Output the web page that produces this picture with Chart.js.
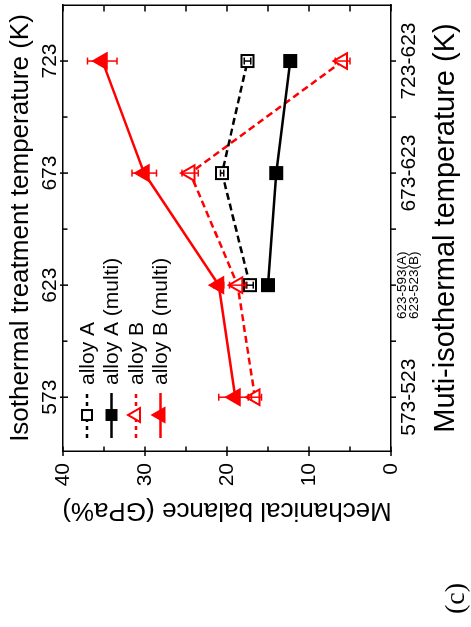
<!DOCTYPE html>
<html>
<head>
<meta charset="utf-8">
<script src="https://cdn.jsdelivr.net/npm/chart.js@4.4.1/dist/chart.umd.min.js"></script>
<style>
  html, body { margin:0; padding:0; background:#fff; overflow:hidden; }
  #wrap { position:absolute; left:0; top:0; width:627px; height:471px; transform-origin:0 0; transform:translate(0px, 627px) rotate(-90deg); background:#fff; }
  #c { position:absolute; left:0; top:0; }
  #lab { position:absolute; left:13px; top:441px; font-family:'Liberation Serif', serif; font-size:28px; line-height:28px; color:#000; }
</style>
</head>
<body>
<div id="wrap">
  <canvas id="c" width="627" height="471" style="width:627px;height:471px"></canvas>
  <div id="lab">(c)</div>
</div>
<script>
// ---- data ----
const temps = [573, 623, 673, 723];
const isoLabels = ['573', '623', '673', '723'];
const multiLabels = ['573-523', ['623-593(A)', '623-523(B)'], '673-623', '723-623'];
const minorTemps = [598, 648, 698];
const seriesNames = ['alloy A', 'alloy A (multi)', 'alloy B', 'alloy B (multi)'];

const alloyA = [null, 17.2, 20.6, 17.5];
const alloyAErr = [null, 0.4, 0.2, 0.4];
const alloyAMulti = [null, 15.0, 14.0, 12.3];
const alloyAMultiErr = [null, 0.3, 0.3, 0.3];
const alloyB = [16.6, 18.7, 24.5, 5.9];
const alloyBErr = [0.8, 1.0, 1.0, 0.9];
const alloyBMulti = [19.0, 21.0, 30.1, 35.2];
const alloyBMultiErr = [2.0, 0.6, 1.5, 1.8];

const yMajor = [0, 10, 20, 30, 40];
const yMinor = [5, 15, 25, 35];

const valueSets = [alloyA, alloyAMulti, alloyB, alloyBMulti];
const errorSets = [alloyAErr, alloyAMultiErr, alloyBErr, alloyBMultiErr];

const FAM = "'Liberation Sans', Arial, sans-serif";
const RED = '#ff0000';
const BLK = '#000000';

const styles = [
  { color: BLK, dash: [7, 4], shape: 'rect', filled: false, r: 8.5 },
  { color: BLK, dash: [], shape: 'rect', filled: true, r: 8.5 },
  { color: RED, dash: [7, 4], shape: 'triangle', filled: false, r: 9 },
  { color: RED, dash: [], shape: 'triangle', filled: true, r: 9 }
];

function toPoints(vals) {
  return temps.map((t, i) => ({ x: t, y: vals[i] }));
}

const datasets = valueSets.map((vals, i) => ({
  label: seriesNames[i],
  data: toPoints(vals),
  borderColor: styles[i].color,
  backgroundColor: styles[i].color,
  borderWidth: 2.5,
  borderDash: styles[i].dash,
  pointStyle: styles[i].shape,
  pointRadius: styles[i].r,
  pointHoverRadius: styles[i].r,
  pointBorderWidth: 2,
  pointBorderColor: styles[i].color,
  pointBackgroundColor: styles[i].filled ? styles[i].color : '#ffffff',
  tension: 0,
  spanGaps: false
}));

function drawMarker(ctx, shape, filled, color, x, y, r) {
  ctx.save();
  ctx.setLineDash([]);
  ctx.lineWidth = 2;
  ctx.strokeStyle = color;
  ctx.fillStyle = filled ? color : '#ffffff';
  ctx.beginPath();
  if (shape === 'rect') {
    const s = Math.SQRT1_2 * r;
    ctx.rect(x - s, y - s, 2 * s, 2 * s);
  } else {
    let a = -Math.PI / 2;
    ctx.moveTo(x + Math.cos(a) * r, y + Math.sin(a) * r);
    a += 2 * Math.PI / 3;
    ctx.lineTo(x + Math.cos(a) * r, y + Math.sin(a) * r);
    a += 2 * Math.PI / 3;
    ctx.lineTo(x + Math.cos(a) * r, y + Math.sin(a) * r);
    ctx.closePath();
  }
  ctx.fill();
  ctx.stroke();
  ctx.restore();
}

const decor = {
  id: 'decor',
  afterDatasetsDraw(chart) {
    const ctx = chart.ctx;
    const xs = chart.scales.x, ys = chart.scales.y;
    const ca = chart.chartArea;
    // error bars
    valueSets.forEach((vals, di) => {
      ctx.save();
      ctx.setLineDash([]);
      ctx.strokeStyle = styles[di].color;
      ctx.lineWidth = 1.5;
      temps.forEach((t, i) => {
        const v = vals[i], e = errorSets[di][i];
        if (v == null || e == null) return;
        const px = xs.getPixelForValue(t);
        const p1 = ys.getPixelForValue(v + e), p2 = ys.getPixelForValue(v - e);
        ctx.beginPath();
        ctx.moveTo(px, p1); ctx.lineTo(px, p2);
        ctx.moveTo(px - 3.5, p1); ctx.lineTo(px + 3.5, p1);
        ctx.moveTo(px - 3.5, p2); ctx.lineTo(px + 3.5, p2);
        ctx.stroke();
      });
      ctx.restore();
    });
    // tick marks
    ctx.save();
    ctx.setLineDash([]);
    ctx.strokeStyle = '#000';
    ctx.lineWidth = 1.5;
    ctx.beginPath();
    temps.concat(minorTemps).forEach(t => {
      const px = xs.getPixelForValue(t);
      ctx.moveTo(px, ca.bottom); ctx.lineTo(px, ca.bottom + 5);
    });
    temps.forEach(t => {
      const px = xs.getPixelForValue(t);
      ctx.moveTo(px, ca.top - 3); ctx.lineTo(px, ca.top + 5);
    });
    minorTemps.forEach(t => {
      const px = xs.getPixelForValue(t);
      ctx.moveTo(px, ca.top); ctx.lineTo(px, ca.top + 4.5);
    });
    yMajor.forEach(v => {
      const py = ys.getPixelForValue(v);
      ctx.moveTo(ca.left - 5, py); ctx.lineTo(ca.left + 4.5, py);
      ctx.moveTo(ca.right - 6.5, py); ctx.lineTo(ca.right, py);
    });
    yMinor.forEach(v => {
      const py = ys.getPixelForValue(v);
      ctx.moveTo(ca.left, py); ctx.lineTo(ca.left + 4.5, py);
      ctx.moveTo(ca.right - 6.5, py); ctx.lineTo(ca.right, py);
    });
    ctx.stroke();
    ctx.restore();
    // legend
    const x0 = ca.left + 13, x1 = ca.left + 58, xm = ca.left + 36, xt = ca.left + 66;
    seriesNames.forEach((name, j) => {
      const y = ca.top + 24 + 24.5 * j;
      const st = styles[j];
      ctx.save();
      ctx.strokeStyle = st.color;
      ctx.lineWidth = 2.5;
      ctx.setLineDash(st.dash.length ? [4, 4] : []);
      ctx.beginPath();
      ctx.moveTo(x0, y); ctx.lineTo(x1, y);
      ctx.stroke();
      ctx.restore();
      drawMarker(ctx, st.shape, st.filled, st.color, xm, y, st.shape === 'rect' ? 7 : 8);
      ctx.save();
      ctx.fillStyle = '#000';
      ctx.font = '21px ' + FAM;
      ctx.textAlign = 'left';
      ctx.textBaseline = 'middle';
      ctx.fillText(name, xt, y + 1);
      ctx.restore();
    });
  }
};

const tickFont = { family: FAM, size: 21 };
const titleFont = { family: FAM, size: 26 };
const border = { display: true, color: '#000', width: 1.5 };

function fitH(h) {
  return s => { s.height = h; s.paddingLeft = 0; s.paddingRight = 0; };
}
function fitW(w) {
  return s => { s.width = w; s.paddingTop = 0; s.paddingBottom = 0; };
}

new Chart(document.getElementById('c'), {
  type: 'line',
  data: { datasets: datasets },
  plugins: [decor],
  options: {
    responsive: false,
    devicePixelRatio: 1,
    animation: false,
    layout: { padding: 0, autoPadding: false },
    plugins: { legend: { display: false }, tooltip: { enabled: false } },
    scales: {
      x: {
        type: 'linear', position: 'bottom', min: 549, max: 748,
        afterBuildTicks: s => { s.ticks = temps.map(v => ({ value: v })); },
        afterFit: fitH(80),
        grid: { display: false, drawTicks: false },
        border: border,
        ticks: {
          autoSkip: false, maxRotation: 0, minRotation: 0, color: '#000', padding: 6,
          callback: (v, i) => multiLabels[i],
          font: c => (c.index === 1 ? { family: FAM, size: 13.5, lineHeight: 0.85 } : tickFont)
        },
        title: { display: true, text: 'Muti-isothermal temperature (K)', color: '#000', font: { family: FAM, size: 29 }, padding: { top: 0, bottom: 8 } }
      },
      x2: {
        type: 'linear', position: 'top', min: 549, max: 748,
        afterBuildTicks: s => { s.ticks = temps.map(v => ({ value: v })); },
        afterFit: fitH(63),
        grid: { display: false, drawTicks: false },
        border: border,
        ticks: { autoSkip: false, maxRotation: 0, minRotation: 0, color: '#000', padding: 0, font: tickFont,
          callback: (v, i) => isoLabels[i] },
        title: { display: true, text: 'Isothermal treatment temperature (K)', color: '#000', font: titleFont, padding: { top: 5, bottom: 0 } }
      },
      y: {
        type: 'linear', position: 'left', min: 0, max: 40,
        afterBuildTicks: s => { s.ticks = yMajor.map(v => ({ value: v })); },
        afterFit: fitW(176),
        grid: { display: false, drawTicks: false },
        border: border,
        ticks: { color: '#000', padding: 12, font: tickFont, callback: v => String(v) },
        title: { display: true, text: 'Mechanical balance (GPa%)', color: '#000', font: titleFont, padding: { top: 101, bottom: 0 } }
      },
      yR: {
        type: 'linear', position: 'right', min: 0, max: 40,
        afterFit: fitW(5),
        grid: { display: false, drawTicks: false },
        border: border,
        ticks: { display: false }
      }
    }
  }
});
</script>
</body>
</html>
